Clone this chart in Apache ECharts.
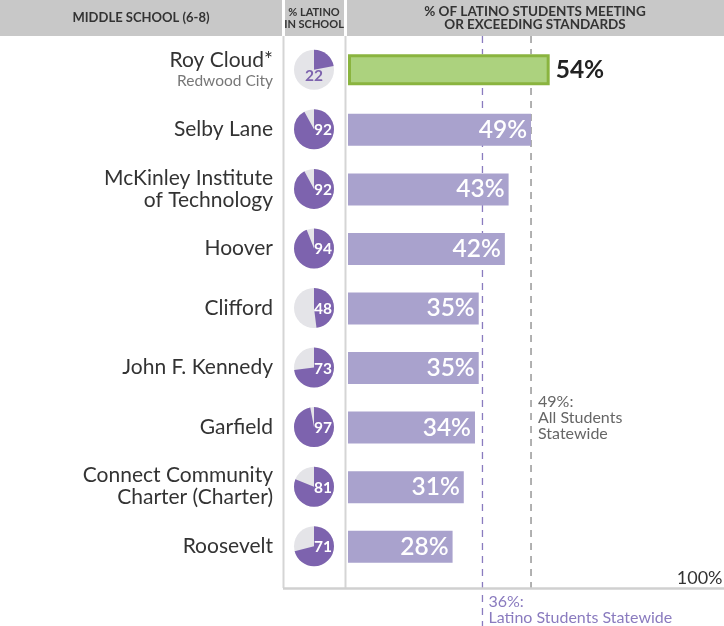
<!DOCTYPE html>
<html><head><meta charset="utf-8">
<script src="https://cdn.jsdelivr.net/npm/echarts@6/dist/echarts.min.js"></script>
<style>html,body{margin:0;padding:0;background:#fff}#c{width:724px;height:626px}</style>
</head><body><div id="c"></div>
<script>
var schools = ['Roy Cloud*', 'Selby Lane', 'McKinley Institute\nof Technology', 'Hoover', 'Clifford', 'John F. Kennedy', 'Garfield', 'Connect Community\nCharter (Charter)', 'Roosevelt'];
var subtitles = ['Redwood City', '', '', '', '', '', '', '', ''];
var meeting = [54, 49, 43, 42, 35, 35, 34, 31, 28];
var latinoPct = [22, 92, 92, 94, 48, 73, 97, 81, 71];
var latinoStatewide = 36;
var allStatewide = 49;

var FONT = 'Lato, "Open Sans", sans-serif';
var PURPLE = '#7d63ae', LAV = '#a9a2cd', GREEN = '#8ab43f', LGREEN = '#acd27e';

var chart = echarts.init(document.getElementById('c'));

var barData = meeting.map(function (v, i) {
  if (i === 0) {
    return { value: v, itemStyle: { color: LGREEN, borderColor: '#fff', borderWidth: 2 },
      label: { position: 'right', color: '#222', fontWeight: 'bold', distance: 6 } };
  }
  return v;
});
var outlineData = meeting.map(function (v, i) { return i === 0 ? v : '-'; });

var option = {
  animation: false,
  textStyle: { fontFamily: FONT },
  grid: [
    { left: 348, right: 2.5, top: 40, bottom: 50 },
    { left: 284, width: 60, top: 40, bottom: 50 }
  ],
  xAxis: [
    { gridIndex: 0, type: 'value', min: 0, max: 100, show: false },
    { gridIndex: 1, type: 'value', min: 0, max: 1, show: false }
  ],
  yAxis: [
    { gridIndex: 0, type: 'category', inverse: true, data: schools,
      axisLine: { show: false }, axisTick: { show: false },
      axisLabel: {
        margin: 75, align: 'right',
        formatter: function (val, i) {
          var lines = val.split('\n').map(function (l) { return '{n|' + l + '}'; }).join('\n');
          return subtitles[i] ? lines + '\n{s|' + subtitles[i] + '}' : lines;
        },
        rich: {
          n: { fontSize: 21, color: '#333', lineHeight: 22, fontFamily: FONT, align: 'right' },
          s: { fontSize: 15.5, color: '#777', lineHeight: 20, fontFamily: FONT, align: 'right' }
        }
      } },
    { gridIndex: 1, type: 'category', inverse: true, data: schools, show: false }
  ],
  series: [
    { type: 'bar', xAxisIndex: 0, yAxisIndex: 0, data: barData, barWidth: 32,
      itemStyle: { color: LAV },
      label: { show: true, position: 'insideRight', color: '#fff', fontSize: 24.5, fontWeight: 600,
        fontFamily: FONT, distance: 4, formatter: '{c}%' } },
    { type: 'bar', xAxisIndex: 0, yAxisIndex: 0, data: outlineData, barWidth: 31, barGap: '-100%',
      itemStyle: { color: 'rgba(0,0,0,0)', borderColor: GREEN, borderWidth: 3 }, z: 3, silent: true },
    { type: 'custom', xAxisIndex: 1, yAxisIndex: 1, data: latinoPct.map(function (v, i) { return [0.5, i, v]; }),
      renderItem: function (params, api) {
        var p = api.coord([api.value(0), api.value(1)]);
        var pct = api.value(2);
        var r = 20;
        var start = -Math.PI / 2;
        var small = pct < 40;
        return { type: 'group', children: [
          { type: 'circle', shape: { cx: p[0], cy: p[1], r: r }, style: { fill: '#e4e4e8' } },
          { type: 'sector', shape: { cx: p[0], cy: p[1], r0: 0, r: r, startAngle: start, endAngle: start + Math.PI * 2 * pct / 100, clockwise: true },
            style: { fill: PURPLE } },
          { type: 'text', x: small ? p[0] : p[0] + 9, y: small ? p[1] + 6 : p[1] + 1,
            style: { text: String(pct), fill: small ? PURPLE : '#fff', fontSize: 15.5, fontWeight: 'bold', fontFamily: FONT,
              align: 'center', verticalAlign: 'middle' } }
        ] };
      } }
  ]
};
chart.setOption(option);

var x36 = chart.convertToPixel({ xAxisIndex: 0 }, latinoStatewide);
var x49 = chart.convertToPixel({ xAxisIndex: 0 }, allStatewide);
var x100 = chart.convertToPixel({ xAxisIndex: 0 }, 100);

chart.setOption({
  graphic: [
    { type: 'rect', shape: { x: 0, y: 0, width: 724, height: 36 }, style: { fill: '#c8c8c8' }, z: 10 },
    { type: 'rect', shape: { x: 282, y: 0, width: 3, height: 36 }, style: { fill: '#fff' }, z: 11 },
    { type: 'rect', shape: { x: 344, y: 0, width: 3, height: 36 }, style: { fill: '#fff' }, z: 11 },
    { type: 'text', x: 141, y: 18, style: { text: 'MIDDLE SCHOOL (6-8)', fill: '#333', fontSize: 13, fontWeight: 'bold', fontFamily: FONT, align: 'center', verticalAlign: 'middle' }, z: 12 },
    { type: 'text', x: 314, y: 18, style: { text: '% LATINO\nIN SCHOOL', fill: '#333', fontSize: 11, lineHeight: 12, fontWeight: 'bold', fontFamily: FONT, align: 'center', verticalAlign: 'middle' }, z: 12 },
    { type: 'text', x: 535, y: 18, style: { text: '% OF LATINO STUDENTS MEETING\nOR EXCEEDING STANDARDS', fill: '#333', fontSize: 13.5, lineHeight: 13, fontWeight: 'bold', fontFamily: FONT, align: 'center', verticalAlign: 'middle' }, z: 12 },
    { type: 'line', shape: { x1: 283.5, y1: 36, x2: 283.5, y2: 588 }, style: { stroke: '#d5d5d5', lineWidth: 2 }, z: 1 },
    { type: 'line', shape: { x1: 345.5, y1: 36, x2: 345.5, y2: 588 }, style: { stroke: '#d5d5d5', lineWidth: 2 }, z: 1 },
    { type: 'line', shape: { x1: 283, y1: 588.5, x2: 724, y2: 588.5 }, style: { stroke: '#d0d0d0', lineWidth: 2.5 }, z: 1 },
    { type: 'line', shape: { x1: x36, y1: 36, x2: x36, y2: 626 }, style: { stroke: '#8a7bbf', lineWidth: 1.3, lineDash: [7, 6] }, z: 0 },
    { type: 'line', shape: { x1: x49, y1: 36, x2: x49, y2: 588 }, style: { stroke: '#888', lineWidth: 1.3, lineDash: [7, 6] }, z: 0 },
    { type: 'text', x: x49 + 7, y: 394, style: { text: allStatewide + '%:\nAll Students\nStatewide', fill: '#666', fontSize: 16, lineHeight: 16, fontFamily: FONT, align: 'left', verticalAlign: 'top' } },
    { type: 'text', x: x36 + 6, y: 594, style: { text: latinoStatewide + '%:\nLatino Students Statewide', fill: '#8a7bbf', fontSize: 16, lineHeight: 16, fontFamily: FONT, align: 'left', verticalAlign: 'top' } },
    { type: 'text', x: x100 + 1, y: 578, style: { text: '100%', fill: '#333', fontSize: 18, fontFamily: FONT, align: 'right', verticalAlign: 'middle' } }
  ]
});
</script></body></html>
